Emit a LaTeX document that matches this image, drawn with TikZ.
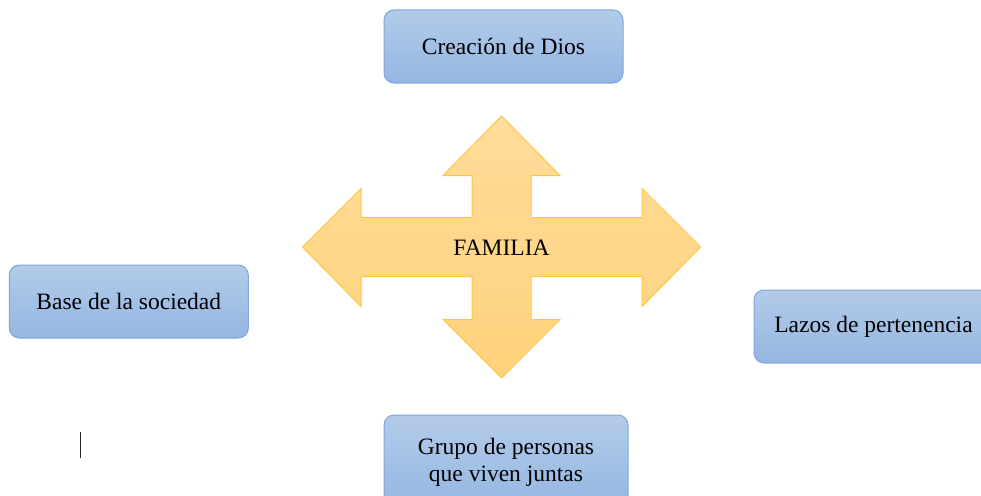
\documentclass[tikz,border=0pt]{standalone}
\usepackage{fontspec}
\setmainfont{Liberation Serif}
\definecolor{boxtop}{HTML}{B3CBE9}
\definecolor{boxbot}{HTML}{94B6E1}
\definecolor{boxline}{HTML}{7FA7DA}
\definecolor{arrtop}{HTML}{FFDC9A}
\definecolor{arrbot}{HTML}{FED27C}
\definecolor{arrline}{HTML}{FFC740}
\tikzset{
  conceptbox/.style={draw=boxline, line width=1pt, rounded corners=10pt,
    top color=boxtop, bottom color=boxbot, minimum width=#1, minimum height=73pt,
    inner sep=0pt, align=center, font=\fontsize{23.5}{27}\selectfont},
  conceptbox/.default=239pt,
  crossarrow/.style={draw=arrline, line width=1pt, top color=arrtop, bottom color=arrbot, line join=miter},
  centrelabel/.style={font=\fontsize{23.5}{27}\selectfont, inner sep=0pt}
}
\begin{document}
\begin{tikzpicture}[x=1pt,y=-1pt]
\useasboundingbox (0,0) rectangle (981,495);
\clip (0,0) rectangle (981,495);
% four-way arrow
\path[crossarrow]
  (501.5,116) -- (560,175.5) -- (531,175.5) -- (531,217.5) -- (642,217.5) -- (642,188.5)
  -- (700.5,247) -- (642,306.5) -- (642,276.5) -- (531,276.5) -- (531,319.5) -- (560,319.5)
  -- (501.5,378) -- (443,319.5) -- (472,319.5) -- (472,276.5) -- (361,276.5) -- (361,306.5)
  -- (302.5,247) -- (361,188.5) -- (361,217.5) -- (472,217.5) -- (472,175.5) -- (443,175.5) -- cycle;
\node[centrelabel] (familia) at (501.5,248) {FAMILIA};
% boxes
\node[conceptbox] (dios) at (503.5,46.5) {Creación de Dios};
\node[conceptbox] (base) at (128.8,301.5) {Base de la sociedad};
\node[conceptbox] (lazos) at (873.5,326.5) {Lazos de pertenencia};
\node[conceptbox=244pt, minimum height=95pt] (grupo) at (506,462.5) {Grupo de personas\\que viven juntas};
% text cursor
\coordinate (curtop) at (80.5,432);
\coordinate (curbot) at (80.5,458);
\draw[line width=1.3pt, black!85] (curtop) -- (curbot);
\end{tikzpicture}
\end{document}
